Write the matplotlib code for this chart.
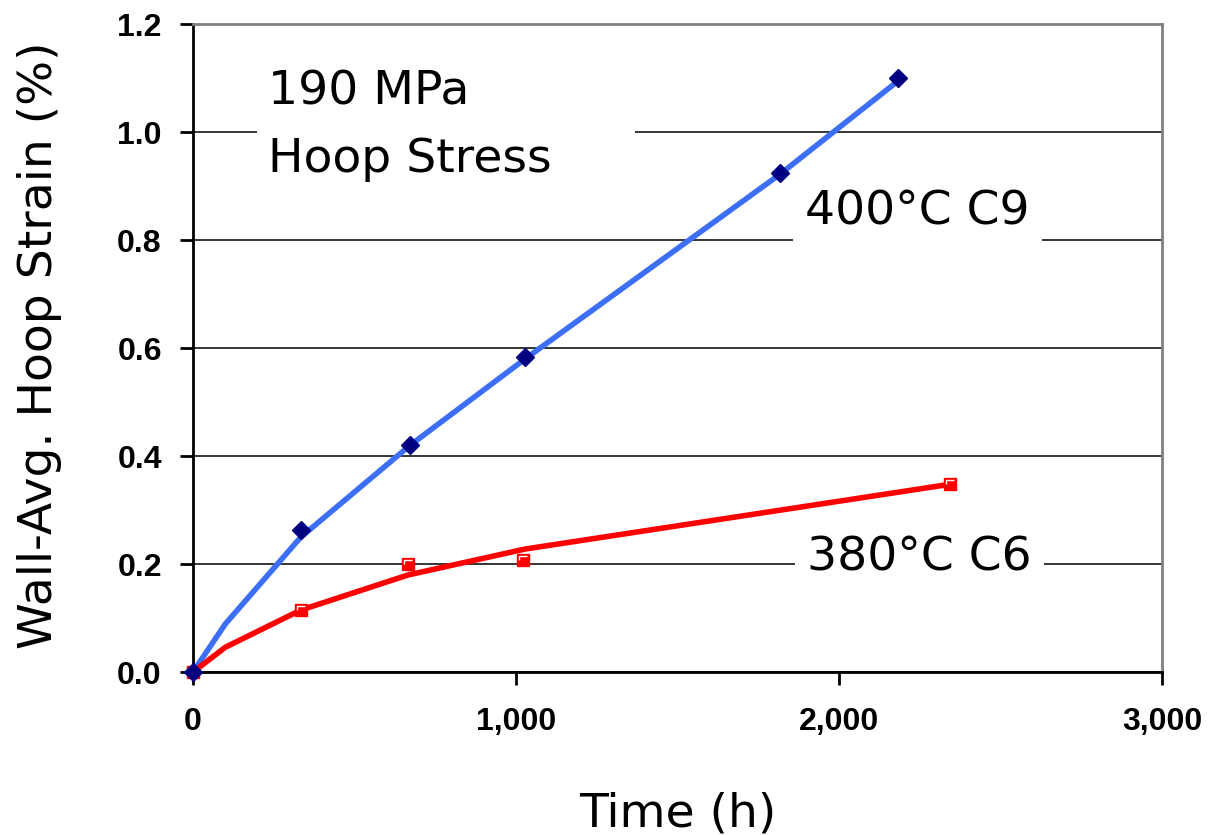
import matplotlib.pyplot as plt
from matplotlib.ticker import FuncFormatter
from matplotlib.patches import Rectangle
from matplotlib.path import Path

plt.rcParams['font.family'] = ['Liberation Sans', 'DejaVu Sans']

# measured points
c9_time = [0, 334, 672, 1028, 1817, 2183]
c9_strain = [0.0, 0.263, 0.420, 0.583, 0.924, 1.100]
c6_time = [0, 334, 666, 1022, 2344]
c6_strain = [0.0, 0.115, 0.200, 0.207, 0.348]

# fitted curves
c9_fit_time = [0, 100, 334, 672, 1028, 1817, 2183]
c9_fit_strain = [0.0, 0.089, 0.250, 0.420, 0.580, 0.922, 1.095]
c6_fit_time = [0, 100, 334, 666, 1028, 2344]
c6_fit_strain = [0.0, 0.046, 0.115, 0.180, 0.228, 0.348]

big_font = "DejaVu Sans"

fig = plt.figure(figsize=(12.13, 8.35), dpi=100)
ax = fig.add_axes([0.159, 0.195, 0.799, 0.776])

ax.plot(c9_fit_time, c9_fit_strain, color="#3c6ef6", lw=4.0, zorder=3, solid_capstyle="butt")
ax.plot(c6_fit_time, c6_fit_strain, color="#ff0000", lw=4.0, zorder=3, solid_capstyle="butt")
corner = Path([(-0.5, 0.0), (-0.5, 0.5), (0.5, 0.5)], [Path.MOVETO, Path.LINETO, Path.LINETO])
ax.plot(c6_time, c6_strain, ls="none", marker="s", ms=8.5, mfc="#ff0000", mec="#ff0000",
        zorder=4, clip_on=False)
ax.plot(c6_time, c6_strain, ls="none", marker=corner, ms=6, mfc="none", mec="white", mew=1.0,
        zorder=5, clip_on=False)
ax.plot(c9_time, c9_strain, ls="none", marker="D", ms=9.5, color="#000080", zorder=6, clip_on=False)

ax.set_xlim(0, 3000)
ax.set_ylim(0, 1.2)
ax.set_xticks([0, 1000, 2000, 3000])
ax.set_yticks([0, 0.2, 0.4, 0.6, 0.8, 1.0, 1.2])
ax.xaxis.set_major_formatter(FuncFormatter(lambda v, p: f"{int(v):,}"))
ax.yaxis.set_major_formatter(FuncFormatter(lambda v, p: f"{v:.1f}"))
ax.tick_params(axis="both", direction="out", length=9.4, width=2, labelsize=23)
ax.tick_params(axis="y", pad=13)
ax.tick_params(axis="x", pad=16)
for lab in ax.get_xticklabels() + ax.get_yticklabels():
    lab.set_fontweight("bold")
    lab.set_clip_on(False)

ax.grid(axis="y", color="black", lw=1.1)
ax.set_axisbelow(True)
for s in ["left", "bottom"]:
    ax.spines[s].set_linewidth(2)
for s in ["top", "right"]:
    ax.spines[s].set_color("#808080")
    ax.spines[s].set_linewidth(2)

ax.set_xlabel("Time (h)", fontsize=34, family=big_font)
ax.set_ylabel("Wall-Avg. Hoop Strain (%)", fontsize=34, family=big_font)
ax.xaxis.set_label_coords(0.5, -0.184)
ax.yaxis.set_label_coords(-0.135, 0.505)

# white patch behind the stress note (hides the 1.0 gridline)
ax.add_patch(Rectangle((200, 0.96), 1170, 0.08, facecolor="white", edgecolor="none", zorder=1.5))
ax.text(232, 1.052, "190 MPa", fontsize=34, family=big_font, ha="left", va="baseline", zorder=2)
ax.text(232, 0.926, "Hoop Stress", fontsize=34, family=big_font, ha="left", va="baseline", zorder=2)

box = dict(facecolor="white", edgecolor="none", pad=9)
ax.text(1896, 0.830, "400°C C9", fontsize=34, family=big_font, ha="left", va="baseline",
        bbox=box, zorder=2)
ax.text(1902, 0.189, "380°C C6", fontsize=34, family=big_font, ha="left", va="baseline",
        bbox=box, zorder=2)

fig.savefig("out.png", dpi=100)
